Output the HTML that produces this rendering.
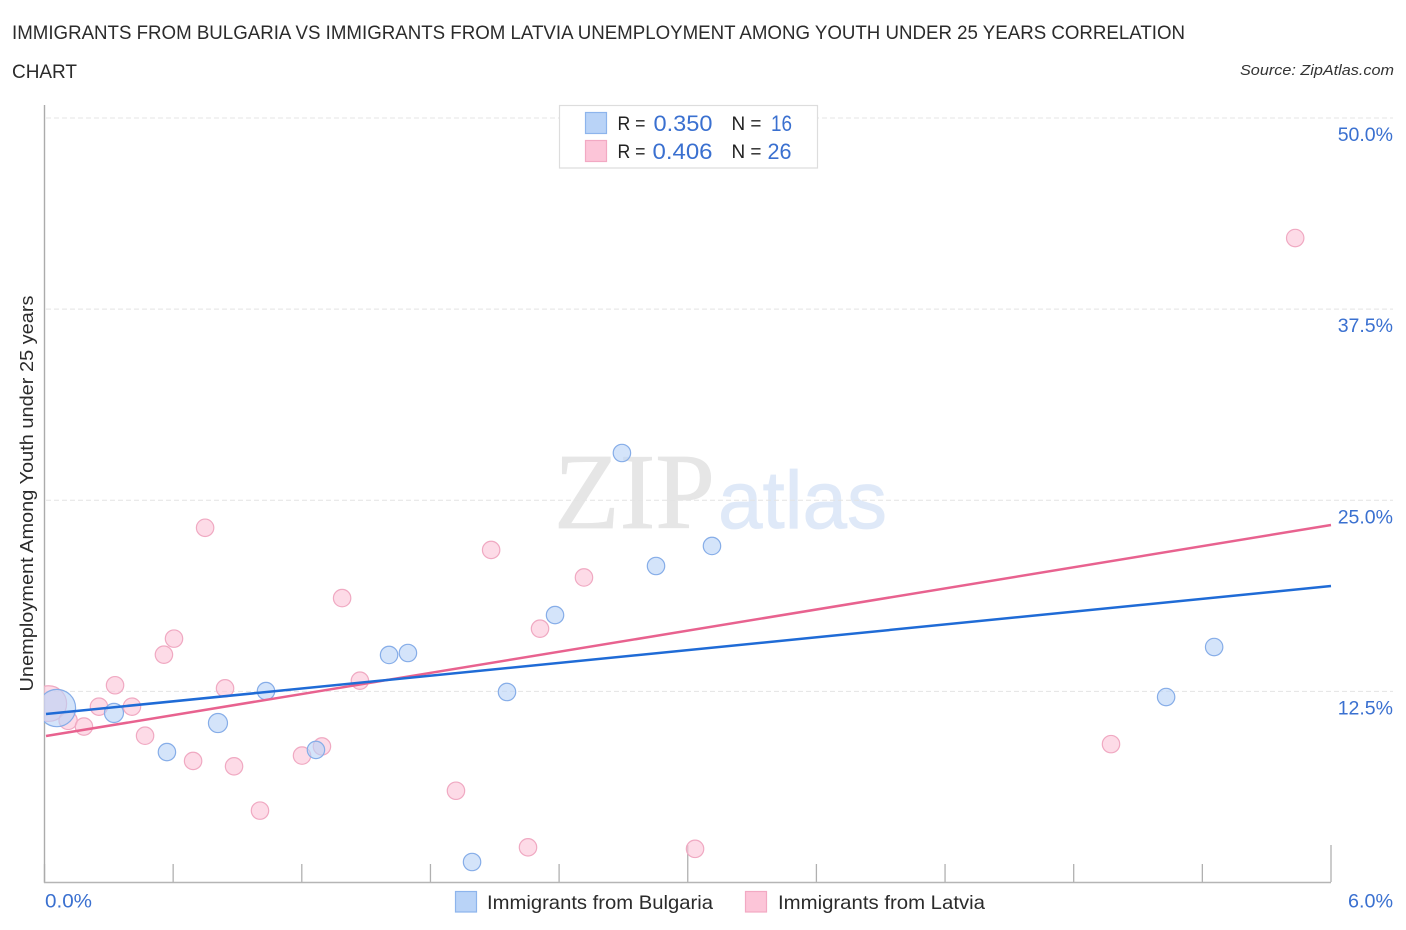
<!DOCTYPE html>
<html lang="en">
<head>
<meta charset="utf-8">
<title>Immigrants from Bulgaria vs Immigrants from Latvia Unemployment Correlation Chart</title>
<style>
html,body{margin:0;padding:0;background:#fff;}
body{width:1406px;height:930px;overflow:hidden;}
svg{display:block;font-family:"Liberation Sans",sans-serif;}
</style>
</head>
<body>
<svg id="chart" width="1406" height="930" viewBox="0 0 1406 930" xmlns="http://www.w3.org/2000/svg">
  <defs>
    <clipPath id="plot-clip"><rect x="44" y="100" width="1360" height="782"/></clipPath>
  </defs>
  <rect x="0" y="0" width="1406" height="930" fill="#ffffff"/>

  <text x="12" y="39" font-size="19" fill="#2b2b2b" textLength="1173" lengthAdjust="spacingAndGlyphs">IMMIGRANTS FROM BULGARIA VS IMMIGRANTS FROM LATVIA UNEMPLOYMENT AMONG YOUTH UNDER 25 YEARS CORRELATION</text>
  <text x="12" y="78" font-size="19" fill="#2b2b2b" textLength="65" lengthAdjust="spacingAndGlyphs">CHART</text>
  <text x="1394" y="75" font-size="15" font-style="italic" fill="#333333" text-anchor="end" textLength="154" lengthAdjust="spacingAndGlyphs">Source: ZipAtlas.com</text>

  <text x="554" y="528" font-family="'Liberation Serif',serif" font-size="108" fill="#e6e6e6" stroke="#e6e6e6" stroke-width="0.8" textLength="161" lengthAdjust="spacingAndGlyphs">ZIP</text>
  <text x="718" y="528" font-size="82" fill="#dfe9f8" stroke="#dfe9f8" stroke-width="0.8" textLength="169" lengthAdjust="spacingAndGlyphs">atlas</text>

  <g id="grid"></g>
  <g id="y-labels"></g>
  <g id="x-ticks"></g>

  <line x1="44.5" y1="105" x2="44.5" y2="883" stroke="#ababab" stroke-width="1.4"/>
  <line x1="44" y1="882.5" x2="1331" y2="882.5" stroke="#b5b5b5" stroke-width="1.6"/>

  <g id="marks" clip-path="url(#plot-clip)"></g>
  <g id="trends" clip-path="url(#plot-clip)"></g>

  <text id="x-label-min" x="45" y="907.500" font-size="19" fill="#3a70d0" textLength="47" lengthAdjust="spacingAndGlyphs">0.0%</text>
  <text id="x-label-max" x="1393" y="907.500" font-size="19" fill="#3a70d0" text-anchor="end" textLength="45" lengthAdjust="spacingAndGlyphs">6.0%</text>

  <text transform="translate(33,493.500) rotate(-90)" font-size="18.500" fill="#2b2b2b" text-anchor="middle" textLength="396" lengthAdjust="spacingAndGlyphs">Unemployment Among Youth under 25 years</text>

  <g>
    <rect x="559.500" y="105.500" width="258" height="62.500" fill="#ffffff" stroke="#dddddd" stroke-width="1.200"/>
    <rect x="585.500" y="112.500" width="21" height="21" fill="#b9d3f7" stroke="#8db4ec" stroke-width="1.200"/>
    <rect x="585.500" y="140.500" width="21" height="21" fill="#fcc5d8" stroke="#f2a9c3" stroke-width="1.200"/>
    <text x="617.500" y="130" font-size="19" fill="#222222" textLength="28" lengthAdjust="spacingAndGlyphs">R =</text>
    <text x="653.500" y="131" font-size="22" fill="#3a70d0" textLength="59" lengthAdjust="spacingAndGlyphs">0.350</text>
    <text x="731.500" y="130" font-size="19" fill="#222222" textLength="30" lengthAdjust="spacingAndGlyphs">N =</text>
    <text x="771" y="131" font-size="22" fill="#3a70d0" textLength="21" lengthAdjust="spacingAndGlyphs">16</text>
    <text x="617.500" y="158" font-size="19" fill="#222222" textLength="28" lengthAdjust="spacingAndGlyphs">R =</text>
    <text x="652.500" y="159" font-size="22" fill="#3a70d0" textLength="60" lengthAdjust="spacingAndGlyphs">0.406</text>
    <text x="731.500" y="158" font-size="19" fill="#222222" textLength="30" lengthAdjust="spacingAndGlyphs">N =</text>
    <text x="767.500" y="159" font-size="22" fill="#3a70d0" textLength="24" lengthAdjust="spacingAndGlyphs">26</text>
  </g>

  <g>
    <rect x="455.500" y="891.500" width="21" height="20.500" fill="#b9d3f7" stroke="#8db4ec" stroke-width="1.200"/>
    <text x="487" y="909" font-size="19.500" fill="#2b2b2b" textLength="226" lengthAdjust="spacingAndGlyphs">Immigrants from Bulgaria</text>
    <rect x="745.500" y="891.500" width="21" height="20.500" fill="#fcc5d8" stroke="#f2a9c3" stroke-width="1.200"/>
    <text x="778" y="909" font-size="19.500" fill="#2b2b2b" textLength="207" lengthAdjust="spacingAndGlyphs">Immigrants from Latvia</text>
  </g>
</svg>

<script>
// Chart data (x = % Immigrants, y = % Unemployment, weight = relative sample size)
const yTickValues = [12.5, 25, 37.5, 50];
const yTickLabels = ['12.5%', '25.0%', '37.5%', '50.0%'];
const xTickValues = [0, 0.6, 1.2, 1.8, 2.4, 3.0, 3.6, 4.2, 4.8, 5.4, 6.0];
const xMajorTicks = [3.0, 6.0];

const bulgariaX = [0.058, 0.324, 0.571, 0.809, 1.033, 1.266, 1.607, 1.695, 1.994, 2.157, 2.381, 2.693, 2.852, 3.113, 5.231, 5.455];
const bulgariaY = [11.41, 11.09, 8.53, 10.43, 12.52, 8.67, 14.88, 15.01, 1.34, 12.46, 17.49, 28.09, 20.70, 22.01, 12.13, 15.40];
const bulgariaWeight = [4.6, 1.2, 1, 1.2, 1, 1, 1, 1, 1, 1, 1, 1, 1, 1, 1, 1];

const latviaX = [0.020, 0.110, 0.184, 0.254, 0.329, 0.408, 0.469, 0.557, 0.604, 0.693, 0.749, 0.842, 0.884, 1.005, 1.201, 1.294, 1.388, 1.471, 1.919, 2.083, 2.255, 2.311, 2.516, 3.034, 4.974, 5.833];
const latviaY = [11.7, 10.6, 10.2, 11.5, 12.9, 11.5, 9.6, 14.9, 15.95, 7.95, 23.2, 12.7, 7.6, 4.7, 8.3, 8.9, 18.6, 13.2, 6.0, 21.75, 2.3, 16.6, 19.95, 2.2, 9.05, 42.15];
const latviaWeight = [4.2, 1.1, 1, 1, 1, 1, 1, 1, 1, 1, 1, 1, 1, 1, 1, 1, 1, 1, 1, 1, 1, 1, 1, 1, 1, 1];

const trendX = [0.007, 6.0];
const bulgariaTrendY = [11.02, 19.39];
const latviaTrendY = [9.58, 23.38];

// Axis functions
const SVG_NS = 'http://www.w3.org/2000/svg';
function xScale(v) { return 44.5 + v * (1331 - 44.5) / 6; }
function yScale(v) { return 882.5 - v * (882.5 - 118) / 50; }
function radius(w) { return 8.7 * Math.sqrt(w); }

const gridGroup = document.getElementById('grid');
const yLabelGroup = document.getElementById('y-labels');
yTickValues.forEach(function (v, i) {
  const line = document.createElementNS(SVG_NS, 'line');
  
  
  line.setAttribute('x1', 46);
  line.setAttribute('x2', 1393);
  line.setAttribute('y1', yScale(v));
  line.setAttribute('y2', yScale(v));
  line.setAttribute('stroke', '#e4e4e4');
  line.setAttribute('stroke-width', '1');
  line.setAttribute('stroke-dasharray', '5 3');
  gridGroup.appendChild(line);

  const label = document.createElementNS(SVG_NS, 'text');
  
  
  label.setAttribute('x', 1393);
  label.setAttribute('y', yScale(v) + 23);
  label.setAttribute('text-anchor', 'end');
  label.setAttribute('font-size', '19.5');
  label.setAttribute('fill', '#3a70d0');
  label.textContent = yTickLabels[i];
  yLabelGroup.appendChild(label);
});

const tickGroup = document.getElementById('x-ticks');
xTickValues.forEach(function (v) {
  const major = xMajorTicks.indexOf(v) !== -1;
  const tick = document.createElementNS(SVG_NS, 'line');
  
  
  tick.setAttribute('x1', xScale(v));
  tick.setAttribute('x2', xScale(v));
  tick.setAttribute('y1', major ? 845 : 864);
  tick.setAttribute('y2', 882);
  tick.setAttribute('stroke', '#b0b0b0');
  tick.setAttribute('stroke-width', '1.3');
  tickGroup.appendChild(tick);
});

const markGroup = document.getElementById('marks');
function drawSeries(xs, ys, weights, fill, stroke, name) {
  xs.forEach(function (x, i) {
    const c = document.createElementNS(SVG_NS, 'circle');
    
    
    c.setAttribute('cx', xScale(x));
    c.setAttribute('cy', yScale(ys[i]));
    c.setAttribute('r', radius(weights[i]));
    c.setAttribute('fill', fill);
    c.setAttribute('fill-opacity', '0.62');
    c.setAttribute('stroke', stroke);
    c.setAttribute('stroke-width', '1.2');
    markGroup.appendChild(c);
  });
}
drawSeries(latviaX, latviaY, latviaWeight, '#fbc5d8', '#f0a9c2', 'point-latvia');
drawSeries(bulgariaX, bulgariaY, bulgariaWeight, '#b9d3f7', '#86ade8', 'point-bulgaria');

const trendGroup = document.getElementById('trends');
function drawTrend(ys, color, name) {
  const l = document.createElementNS(SVG_NS, 'line');
  
  
  l.setAttribute('x1', xScale(trendX[0]));
  l.setAttribute('y1', yScale(ys[0]));
  l.setAttribute('x2', xScale(trendX[1]));
  l.setAttribute('y2', yScale(ys[1]));
  l.setAttribute('stroke', color);
  l.setAttribute('stroke-width', '2.500');
  trendGroup.appendChild(l);
}
drawTrend(latviaTrendY, '#e8628f', 'trend-line-latvia');
drawTrend(bulgariaTrendY, '#1f6bd6', 'trend-line-bulgaria');
</script>
</body>
</html>
